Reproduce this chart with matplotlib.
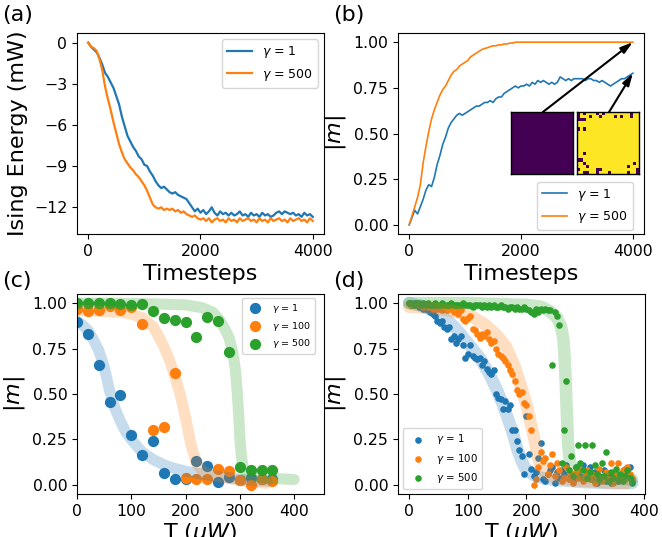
import numpy as np
import matplotlib
matplotlib.use('Agg')
import matplotlib.pyplot as plt

# ---- (a) Ising energy vs timesteps, sampled every 50 steps
steps = np.arange(0, 4001, 50)
energy_g1 = [0.0, -0.3, -0.5, -0.7, -1.1, -1.6, -2.2, -2.5, -2.9, -3.3,
             -3.9, -4.5, -5.4, -6.1, -6.8, -7.2, -7.6, -7.9, -8.3, -8.5,
             -8.9, -9.0, -9.4, -9.7, -10.1, -10.4, -10.6, -10.5, -10.7, -10.9,
             -11.0, -10.9, -11.1, -11.2, -11.3, -11.4, -11.7, -12.0, -12.3, -12.1,
             -12.4, -12.2, -12.5, -12.3, -12.0, -12.4, -12.6, -12.3, -12.5, -12.4,
             -12.6, -12.4, -12.6, -12.5, -12.3, -12.6, -12.5, -12.7, -12.4, -12.6,
             -12.5, -12.7, -12.4, -12.6, -12.5, -12.7, -12.6, -12.4, -12.3, -12.5,
             -12.3, -12.4, -12.5, -12.4, -12.6, -12.5, -12.7, -12.4, -12.6, -12.5,
             -12.7]
energy_g500 = [0.0, -0.3, -0.4, -0.6, -1.2, -2.0, -3.2, -4.1, -4.9, -5.8,
               -6.6, -7.4, -8.0, -8.5, -8.8, -9.1, -9.3, -9.6, -9.8, -10.1,
               -10.4, -10.8, -11.3, -11.8, -12.0, -12.1, -12.0, -12.2, -12.1, -12.2,
               -12.1, -12.3, -12.2, -12.4, -12.3, -12.5, -12.6, -12.7, -12.6, -12.8,
               -12.9, -12.8, -13.0, -12.8, -13.1, -12.9, -12.8, -13.0, -12.9, -13.1,
               -12.8, -13.0, -12.9, -13.1, -12.8, -13.0, -12.9, -12.8, -13.0, -12.9,
               -13.1, -12.8, -13.0, -12.9, -13.1, -12.8, -13.0, -12.9, -12.8, -13.0,
               -12.9, -13.1, -12.8, -13.0, -12.9, -12.8, -13.0, -12.9, -13.1, -12.8,
               -13.0]

# ---- (b) magnetisation vs timesteps
mag_g1 = [0.00, 0.04, 0.08, 0.06, 0.10, 0.14, 0.19, 0.22, 0.21, 0.26,
          0.33, 0.38, 0.44, 0.48, 0.53, 0.56, 0.58, 0.60, 0.61, 0.60,
          0.61, 0.62, 0.63, 0.64, 0.65, 0.65, 0.66, 0.67, 0.67, 0.68,
          0.67, 0.69, 0.70, 0.70, 0.72, 0.73, 0.74, 0.75, 0.76, 0.75,
          0.76, 0.76, 0.77, 0.76, 0.78, 0.77, 0.79, 0.78, 0.79, 0.78,
          0.77, 0.78, 0.77, 0.78, 0.81, 0.80, 0.79, 0.80, 0.79, 0.80,
          0.80, 0.80, 0.80, 0.79, 0.80, 0.80, 0.79, 0.79, 0.78, 0.79,
          0.78, 0.77, 0.76, 0.77, 0.78, 0.79, 0.80, 0.80, 0.81, 0.82,
          0.83]
mag_g500 = [0.00, 0.05, 0.10, 0.15, 0.22, 0.34, 0.43, 0.51, 0.58, 0.63,
            0.67, 0.71, 0.74, 0.76, 0.79, 0.82, 0.84, 0.85, 0.87, 0.88,
            0.89, 0.90, 0.92, 0.93, 0.94, 0.95, 0.96, 0.965, 0.97, 0.975,
            0.98, 0.98, 0.985, 0.985, 0.99, 0.99, 0.995, 0.995, 1.0, 1.0,
            1.0, 1.0, 1.0, 1.0, 1.0, 1.0, 1.0, 1.0, 1.0, 1.0,
            1.0, 1.0, 1.0, 1.0, 1.0, 1.0, 1.0, 1.0, 1.0, 1.0,
            1.0, 1.0, 1.0, 1.0, 1.0, 1.0, 1.0, 1.0, 1.0, 1.0,
            1.0, 1.0, 1.0, 1.0, 1.0, 1.0, 1.0, 1.0, 1.0, 1.0,
            1.0]

# final spin states (20x20), flipped (down) spins of the gamma=1 run
grid_n = 20
down_spins = [(0, 0), (0, 2), (0, 6), (0, 8), (0, 17), (1, 0), (1, 4), (1, 7),
              (1, 12), (1, 14), (1, 17), (2, 0), (2, 1), (2, 2), (5, 0), (5, 2),
              (13, 2), (15, 0), (15, 1), (16, 2), (16, 18), (17, 3), (17, 16),
              (18, 0), (18, 6), (18, 7), (18, 19), (19, 2), (19, 3), (19, 6),
              (19, 10), (19, 16), (19, 19)]

# ---- (c) sweep with 20 uW steps
T_c = [0, 20, 40, 60, 80, 100, 120, 140, 160, 180, 200, 220, 240, 260, 280, 300, 320, 340, 360]
mc_g1 = [0.895, 0.83, 0.66, 0.455, 0.495, 0.275, 0.165, 0.24, 0.065, 0.03,
         0.035, 0.13, 0.105, 0.015, 0.045, 0.025, 0.04, 0.035, 0.03]
mc_g100 = [0.967, 0.955, 0.96, 0.985, 0.96, 0.98, 0.885, 0.30, 0.32, 0.615,
           0.04, 0.035, 0.035, 0.09, 0.075, 0.025, 0.0, 0.03, 0.02]
mc_g500 = [1.0, 1.0, 1.0, 1.0, 0.995, 0.99, 0.995, 0.955, 0.92, 0.905,
           0.895, 0.815, 0.925, 0.90, 0.73, 0.10, 0.08, 0.08, 0.08]

fitc_T_g1 = [0, 10, 20, 30, 40, 50, 60, 70, 80, 90, 100, 120, 140, 160, 180, 200, 230, 260, 290, 320, 350]
fitc_m_g1 = [0.90, 0.88, 0.85, 0.80, 0.74, 0.65, 0.52, 0.42, 0.35, 0.29, 0.25, 0.18, 0.14, 0.11,
             0.09, 0.075, 0.06, 0.045, 0.035, 0.025, 0.02]
fitc_T_g100 = [0, 40, 80, 100, 120, 140, 150, 160, 170, 180, 190, 200, 210, 220, 230, 240, 260, 280, 300, 330, 350]
fitc_m_g100 = [0.96, 0.955, 0.95, 0.94, 0.92, 0.87, 0.82, 0.76, 0.69, 0.60, 0.50, 0.37, 0.22, 0.12,
               0.08, 0.065, 0.045, 0.035, 0.025, 0.015, 0.01]
fitc_T_g500 = [0, 50, 100, 150, 200, 230, 250, 262, 272, 280, 287, 292, 295, 298, 300, 303, 307, 315, 330, 360, 400]
fitc_m_g500 = [1.0, 1.0, 0.998, 0.995, 0.99, 0.975, 0.95, 0.91, 0.86, 0.81, 0.73, 0.63, 0.52, 0.38,
               0.26, 0.15, 0.09, 0.06, 0.045, 0.035, 0.03]

# ---- (d) sweep with 4 uW steps
T_d = np.arange(0, 381, 4)
md_g1 = [1.00, 0.99, 1.00, 0.99, 0.98, 0.98, 0.97, 0.97, 0.96, 0.95,
         0.94, 0.93, 0.90, 0.89, 0.90, 0.87, 0.86, 0.87, 0.80, 0.82,
         0.78, 0.80, 0.82, 0.77, 0.70, 0.72, 0.77, 0.71, 0.70, 0.69,
         0.70, 0.66, 0.68, 0.64, 0.62, 0.61, 0.63, 0.50, 0.48, 0.47,
         0.42, 0.46, 0.42, 0.44, 0.30, 0.30, 0.24, 0.19, 0.16, 0.06,
         0.38, 0.17, 0.09, 0.05, 0.07, 0.15, 0.23, 0.03, 0.02, 0.06,
         0.08, 0.10, 0.01, 0.07, 0.04, 0.08, 0.06, 0.11, 0.03, 0.05,
         0.02, 0.10, 0.08, 0.05, 0.11, 0.04, 0.06, 0.10, 0.03, 0.07,
         0.01, 0.05, 0.03, 0.08, 0.02, 0.05, 0.01, 0.04, 0.06, 0.02,
         0.05, 0.03, 0.09, 0.07, 0.10, 0.02]
md_g100 = [1.00, 0.99, 0.99, 1.00, 0.99, 0.99, 0.98, 0.99, 0.98, 0.98,
           0.97, 0.98, 0.97, 0.97, 0.96, 0.97, 0.96, 0.99, 0.97, 0.95,
           0.96, 0.94, 0.96, 0.91, 0.90, 0.92, 0.93, 0.86, 0.85, 0.83,
           0.81, 0.83, 0.82, 0.84, 0.80, 0.78, 0.79, 0.75, 0.72, 0.71,
           0.70, 0.68, 0.66, 0.63, 0.61, 0.57, 0.52, 0.50, 0.51, 0.45,
           0.44, 0.38, 0.30, 0.00, 0.03, 0.10, 0.18, 0.13, 0.15, 0.06,
           0.11, 0.17, 0.05, 0.12, 0.08, 0.02, 0.04, 0.10, 0.03, 0.06,
           0.01, 0.07, 0.04, 0.09, 0.02, 0.05, 0.08, 0.03, 0.06, 0.01,
           0.04, 0.09, 0.02, 0.05, 0.07, 0.03, 0.12, 0.01, 0.06, 0.12,
           0.04, 0.08, 0.03, 0.10, 0.06, 0.04]
md_g500 = [1.00, 1.00, 0.99, 1.00, 1.00, 0.99, 1.00, 0.99, 1.00, 0.99,
           0.99, 1.00, 0.99, 0.99, 1.00, 0.99, 0.99, 0.99, 1.00, 0.99,
           0.99, 0.99, 0.99, 1.00, 0.99, 0.99, 0.99, 0.98, 0.99, 0.99,
           0.99, 0.98, 0.99, 0.98, 0.99, 0.98, 0.99, 0.98, 0.98, 0.99,
           0.98, 0.98, 0.97, 0.98, 0.98, 0.97, 0.98, 0.97, 0.97, 0.98,
           0.97, 0.96, 0.95, 0.94, 0.97, 0.95, 0.97, 0.96, 0.97, 0.96,
           0.96, 0.66, 0.95, 0.93, 0.88, 0.12, 0.30, 0.57, 0.08, 0.16,
           0.05, 0.10, 0.22, 0.12, 0.08, 0.22, 0.04, 0.07, 0.22, 0.11,
           0.06, 0.03, 0.12, 0.05, 0.18, 0.02, 0.07, 0.04, 0.09, 0.03,
           0.06, 0.02, 0.05, 0.08, 0.04, 0.01]

fitd_T_g1 = [0, 20, 40, 60, 80, 100, 120, 135, 150, 160, 170, 178, 185, 192, 198, 205, 215, 230, 260, 300, 340, 380]
fitd_m_g1 = [1.0, 0.985, 0.96, 0.92, 0.86, 0.78, 0.70, 0.62, 0.52, 0.44, 0.35, 0.27, 0.19, 0.13,
             0.09, 0.07, 0.05, 0.035, 0.025, 0.015, 0.01, 0.01]
fitd_T_g100 = [0, 30, 60, 90, 110, 130, 150, 165, 180, 190, 200, 207, 213, 218, 223, 230, 240, 260, 290, 330, 370]
fitd_m_g100 = [0.98, 0.975, 0.965, 0.945, 0.92, 0.88, 0.82, 0.76, 0.65, 0.55, 0.44, 0.34, 0.26, 0.18,
               0.11, 0.07, 0.05, 0.035, 0.025, 0.015, 0.01]
fitd_T_g500 = [0, 50, 100, 150, 200, 225, 240, 252, 259, 263, 265, 267, 269, 271, 274, 280, 290, 310, 340, 380]
fitd_m_g500 = [1.0, 1.0, 1.0, 0.995, 0.99, 0.98, 0.955, 0.92, 0.87, 0.80, 0.70, 0.55, 0.38, 0.22,
               0.13, 0.08, 0.06, 0.045, 0.035, 0.03]

labels = ['$\\gamma$ = 1', '$\\gamma$ = 100', '$\\gamma$ = 500']
colors = ['#1f77b4', '#ff7f0e', '#2ca02c']

tick_fs = 11.3
label_fs = 16

fig = plt.figure(figsize=(6.62, 5.37), dpi=100)
ax_a = fig.add_axes([0.1163, 0.5642, 0.3731, 0.3743])
ax_b = fig.add_axes([0.6012, 0.5642, 0.3716, 0.3743])
ax_c = fig.add_axes([0.1163, 0.0801, 0.3731, 0.3724])
ax_d = fig.add_axes([0.6012, 0.0801, 0.3731, 0.3724])

# (a)
ax_a.plot(steps, energy_g1, color=colors[0], lw=1.6, label=labels[0])
ax_a.plot(steps, energy_g500, color=colors[1], lw=1.6, label=labels[2])
ax_a.set_ylim(-13.95, 0.7)
ax_a.set_yticks([0, -3, -6, -9, -12])
ax_a.set_xticks([0, 2000, 4000])
ax_a.set_xlabel('Timesteps', fontsize=label_fs)
ax_a.set_ylabel('Ising Energy (mW)', fontsize=label_fs)
ax_a.legend(loc='upper right', fontsize=9)

# (b)
ax_b.plot(steps, mag_g1, color=colors[0], lw=1.2, label=labels[0])
ax_b.plot(steps, mag_g500, color=colors[1], lw=1.2, label=labels[2])
ax_b.set_ylim(-0.05, 1.05)
ax_b.set_yticks([0, 0.25, 0.5, 0.75, 1.0])
ax_b.set_xticks([0, 2000, 4000])
ax_b.set_xlabel('Timesteps', fontsize=label_fs)
ax_b.set_ylabel('$|m|$', fontsize=label_fs)
ax_b.legend(loc='lower right', bbox_to_anchor=(0.955, 0.02), borderaxespad=0, fontsize=9)

state_up = -np.ones((grid_n, grid_n))
state_mixed = np.ones((grid_n, grid_n))
for r, c in down_spins:
    state_mixed[r, c] = -1

for x0, state in [(0.459, state_up), (0.728, state_mixed)]:
    ins = ax_b.inset_axes([x0, 0.299, 0.252, 0.308])
    ins.imshow(state, cmap='viridis', vmin=-1, vmax=1, interpolation='nearest')
    ins.set_xticks([])
    ins.set_yticks([])
    for sp in ins.spines.values():
        sp.set_linewidth(1.0)

arrow_kw = dict(arrowstyle='-|>,head_length=0.6,head_width=0.18', color='black',
                lw=1.5, mutation_scale=12, shrinkA=0, shrinkB=0)
ax_b.annotate('', xy=(4000, mag_g500[-1]), xycoords='data',
              xytext=(0.589, 0.607), textcoords='axes fraction', arrowprops=arrow_kw)
ax_b.annotate('', xy=(4000, mag_g1[-1]), xycoords='data',
              xytext=(0.858, 0.607), textcoords='axes fraction', arrowprops=arrow_kw)

# (c)
c_data = [(mc_g1, fitc_T_g1, fitc_m_g1), (mc_g100, fitc_T_g100, fitc_m_g100),
          (mc_g500, fitc_T_g500, fitc_m_g500)]
for (m, ft, fm), col, lab in zip(c_data, colors, labels):
    ax_c.scatter(T_c, m, s=50, color=col, label=lab)
    ax_c.plot(ft, fm, color=col, lw=8, alpha=0.25, solid_capstyle='round')
ax_c.set_xlim(0, 455)
ax_c.set_ylim(-0.05, 1.05)
ax_c.set_xticks([0, 100, 200, 300, 400])
ax_c.set_yticks([0, 0.25, 0.5, 0.75, 1.0])
ax_c.set_xlabel('T ($\\mu W$)', fontsize=label_fs, labelpad=2)
ax_c.set_ylabel('$|m|$', fontsize=label_fs)
ax_c.legend(loc='upper right', bbox_to_anchor=(0.964, 0.98), borderaxespad=0, fontsize=6.8)

# (d)
d_data = [(md_g1, fitd_T_g1, fitd_m_g1), (md_g100, fitd_T_g100, fitd_m_g100),
          (md_g500, fitd_T_g500, fitd_m_g500)]
for (m, ft, fm), col, lab in zip(d_data, colors, labels):
    ax_d.scatter(T_d, m, s=14, color=col, label=lab)
    ax_d.plot(ft, fm, color=col, lw=9, alpha=0.25, solid_capstyle='round')
ax_d.set_xlim(-19, 402)
ax_d.set_ylim(-0.05, 1.05)
ax_d.set_xticks([0, 100, 200, 300, 400])
ax_d.set_yticks([0, 0.25, 0.5, 0.75, 1.0])
ax_d.set_xlabel('T ($\\mu W$)', fontsize=label_fs, labelpad=2)
ax_d.set_ylabel('$|m|$', fontsize=label_fs)
ax_d.legend(loc='lower left', fontsize=7.4)

for ax in [ax_a, ax_b, ax_c, ax_d]:
    ax.tick_params(labelsize=tick_fs)

for x, y, t in [(0.003, 0.99, '(a)'), (0.503, 0.99, '(b)'), (0.003, 0.495, '(c)'), (0.503, 0.495, '(d)')]:
    fig.text(x, y, t, fontsize=16, ha='left', va='top')

fig.savefig('out.png', dpi=100)
